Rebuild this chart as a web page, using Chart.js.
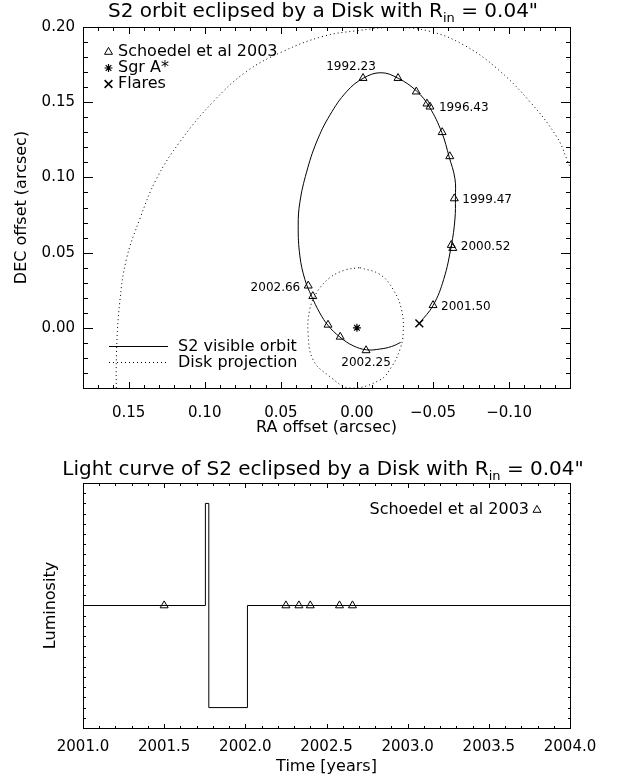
<!DOCTYPE html>
<html>
<head>
<meta charset="utf-8">
<script src="https://cdn.jsdelivr.net/npm/chart.js@4.4.1/dist/chart.umd.min.js"></script>
<style>
  html, body { margin: 0; padding: 0; background: #fff; }
  #page { position: relative; width: 618px; height: 782px; }
  .panel { position: absolute; left: 0; width: 618px; }
  #orbitBox { top: 0; height: 440px; }
  #lightBox { top: 440px; height: 342px; }
</style>
</head>
<body>
<div id="page">
  <div class="panel" id="orbitBox"><canvas id="orbit"></canvas></div>
  <div class="panel" id="lightBox"><canvas id="light"></canvas></div>
</div>
<script>
// ---- data (arcsec / years) ----

// Schoedel et al 2003 positions of S2
const obsRA  = [-0.004, -0.027, -0.039, -0.046, -0.048, -0.056, -0.061, -0.064, -0.062, -0.063, -0.050, -0.006, 0.011, 0.019, 0.029, 0.032];
const obsDEC = [ 0.166,  0.166,  0.157,  0.149,  0.147,  0.130,  0.114,  0.086,  0.055,  0.053,  0.015, -0.015, -0.006, 0.002, 0.021, 0.028];
const obsLabels   = ['1992.23', '1996.43', '1999.47', '2000.52', '2001.50', '2002.25', '2002.66'];
const obsLabelIdx = [0, 4, 7, 9, 10, 11, 15];

// visible part of the S2 orbit (from the flare round to the eclipse)
const orbitRA  = [-0.041, -0.050, -0.057, -0.062, -0.0644, -0.0647, -0.0644, -0.0606, -0.0558, -0.0475, -0.0392, -0.0271, -0.0157, -0.0041, 0.0068, 0.0178, 0.0265, 0.0331, 0.0375, 0.0386, 0.0375, 0.0342, 0.0298, 0.0244, 0.0189, 0.0112, 0.0025, -0.0063, -0.0151, -0.0228, -0.0287];
const orbitDEC = [ 0.003,  0.0148, 0.0322, 0.0545, 0.0723, 0.0864, 0.0991, 0.1136, 0.1298, 0.1470, 0.1574, 0.1659, 0.1696, 0.1659, 0.1570, 0.1414, 0.1236, 0.1035, 0.0835, 0.0678, 0.0478, 0.0322, 0.0210, 0.0099, 0.0015, -0.0061, -0.0119, -0.0146, -0.0141, -0.0124, -0.0097];

// disk projection, inner edge
const diskInRA  = [-0.0019, -0.0151, -0.0238, -0.0293, -0.0304, -0.0282, -0.0228, -0.0151, 0.0046, 0.0178, 0.0288, 0.0321, 0.0310, 0.0265, 0.0178, 0.0079, -0.0019];
const diskInDEC = [ 0.040,   0.0355,  0.0255,  0.0121, -0.0034, -0.0146, -0.0258, -0.0347, -0.040, -0.0324, -0.0213, -0.0034, 0.0121, 0.0233, 0.0333, 0.0384, 0.040];

// disk projection, outer edge
const diskOutRA  = [0.1581, 0.158, 0.1559, 0.1515, 0.1427, 0.1317, 0.1164, 0.0945, 0.0726, 0.0485, 0.0222, 0.0002, -0.025, -0.048, -0.0699, -0.0918, -0.1137, -0.1313, -0.1378, -0.144];
const diskOutDEC = [-0.048, -0.0168, 0.0166, 0.0456, 0.0723, 0.0991, 0.1236, 0.1503, 0.1704, 0.1838, 0.1938, 0.1975, 0.1997, 0.1971, 0.1882, 0.1726, 0.1503, 0.127, 0.1124, 0.0957];

const sgrRA = [0.0], sgrDEC = [0.0];
const flareRA = [-0.041], flareDEC = [0.003];

// light curve (step points) and observation epochs
const lcTime = [2001.0, 2001.754, 2001.775, 2002.013, 2004.0];
const lcLum  = [0.6, 1.1, 0.1, 0.6, 0.6];
const obsTime = [2001.50, 2002.25, 2002.33, 2002.40, 2002.58, 2002.66];
const obsLum  = [0.6, 0.6, 0.6, 0.6, 0.6, 0.6];

const orbitTitle = ['S2 orbit eclipsed by a Disk with R', 'in', ' = 0.04"'];
const lightTitle = ['Light curve of S2 eclipsed by a Disk with R', 'in', ' = 0.04"'];

// ---- helpers ----
const FONT = '"DejaVu Sans", sans-serif';
Chart.defaults.font.family = FONT;
Chart.defaults.color = '#000';

const pts = (xs, ys) => xs.map((v, i) => ({ x: v, y: ys[i] }));
const isMajor = (v, step) => Math.abs(v / step - Math.round(v / step)) < 1e-6;
const fmt = (v, d) => (Math.abs(v) < 1e-9 ? 0 : v).toFixed(d).replace('-', '\u2212');

function drawSubTitle(ctx, parts, cx, cy, size) {
  const big = size + 'px ' + FONT, small = Math.round(size * 0.65) + 'px ' + FONT;
  ctx.font = big;
  const w0 = ctx.measureText(parts[0]).width, w2 = ctx.measureText(parts[2]).width;
  ctx.font = small;
  const w1 = ctx.measureText(parts[1]).width;
  let x = cx - (w0 + w1 + w2) / 2;
  ctx.textAlign = 'left';
  ctx.textBaseline = 'middle';
  ctx.font = big;   ctx.fillText(parts[0], x, cy); x += w0;
  ctx.font = small; ctx.fillText(parts[1], x, cy + size * 0.32); x += w1;
  ctx.font = big;   ctx.fillText(parts[2], x, cy);
}

// tick values of a scale, stepping from its min to its max
function tickValues(scale, step) {
  const out = [];
  const n0 = Math.ceil(scale.min / step - 1e-6), n1 = Math.floor(scale.max / step + 1e-6);
  for (let n = n0; n <= n1; n++) out.push(n * step);
  return out;
}

// box round the plot with inward ticks on all four sides (IDL look)
function makeFrame(ax, ay) {
  return {
    id: 'idlFrame',
    afterDraw(chart) {
      const ctx = chart.ctx, area = chart.chartArea;
      const sx = chart.scales.x, sy = chart.scales.y;
      const L = Math.round(area.left), R = Math.round(area.right);
      const T = Math.round(area.top), B = Math.round(area.bottom);
      ctx.save();
      ctx.fillStyle = '#000';
      ctx.fillRect(L, T, R - L + 1, 1);
      ctx.fillRect(L, B, R - L + 1, 1);
      ctx.fillRect(L, T, 1, B - T + 1);
      ctx.fillRect(R, T, 1, B - T + 1);
      tickValues(sx, ax.minor).forEach(v => {
        const p = Math.round(sx.getPixelForValue(v));
        const len = isMajor(v, ax.major) ? ax.len[0] : ax.len[1];
        ctx.fillRect(p, B - len + 1, 1, len);
        ctx.fillRect(p, T, 1, len);
      });
      tickValues(sy, ay.minor).forEach(v => {
        const p = Math.round(sy.getPixelForValue(v));
        const len = isMajor(v, ay.major) ? ay.len[0] : ay.len[1];
        ctx.fillRect(L, p, len, 1);
        ctx.fillRect(R - len + 1, p, len, 1);
      });
      ctx.restore();
    }
  };
}

const symbol = (ctx, style, r, bw, px, py) => {
  ctx.lineWidth = bw;
  Chart.helpers.drawPoint(ctx, { pointStyle: style, radius: r, borderWidth: bw, rotation: 0 }, px, py);
};

// ---- orbit panel ----
const yearPlace = [[-12, -11, 'center'], [9, 1, 'left'], [8, 1, 'left'], [8, -1, 'left'], [8, 2, 'left'], [0, 12, 'center'], [-8, 2, 'right']];

const orbitDecor = {
  id: 'orbitDecor',
  afterDraw(chart) {
    const { ctx, chartArea: a, scales: { x, y } } = chart;
    ctx.save();
    ctx.fillStyle = '#000';
    ctx.strokeStyle = '#000';
    drawSubTitle(ctx, orbitTitle, 323, 12, 20);

    ctx.font = '12px ' + FONT;
    ctx.textBaseline = 'middle';
    obsLabels.forEach((txt, i) => {
      const k = obsLabelIdx[i];
      const [dx, dy, al] = yearPlace[i];
      ctx.textAlign = al;
      ctx.fillText(txt, x.getPixelForValue(obsRA[k]) + dx, y.getPixelForValue(obsDEC[k]) + dy);
    });

    // symbol legend, upper left
    const items = [['triangle', 4.6, 1, 'Schoedel et al 2003'], ['star', 4, 1.2, 'Sgr A*'], ['crossRot', 5.5, 1.5, 'Flares']];
    ctx.font = '16px ' + FONT;
    ctx.textAlign = 'left';
    items.forEach((it, i) => {
      const yy = a.top + 25 + i * 16;
      ctx.fillStyle = 'rgba(0,0,0,0)';
      symbol(ctx, it[0], it[1], it[2], a.left + 25.5, yy);
      ctx.fillStyle = '#000';
      ctx.fillText(it[3], a.left + 35, yy);
    });

    // line legend, lower left
    const lines = [[[], 'S2 visible orbit'], [[1, 3], 'Disk projection']];
    lines.forEach((ln, i) => {
      const yy = Math.round(a.bottom - 42 + i * 15.5) + 0.5;
      ctx.lineWidth = 1;
      ctx.setLineDash(ln[0]);
      ctx.beginPath();
      ctx.moveTo(a.left + 26, yy);
      ctx.lineTo(a.left + 85, yy);
      ctx.stroke();
      ctx.setLineDash([]);
      ctx.fillText(ln[1], a.left + 95, yy);
    });
    ctx.restore();
  }
};

const lineSet = (data, dash) => ({
  data, showLine: true, borderColor: '#000', borderWidth: 1, borderDash: dash,
  pointRadius: 0, tension: 0.4, fill: false
});

new Chart(document.getElementById('orbit'), {
  type: 'scatter',
  data: {
    datasets: [
      lineSet(pts(orbitRA, orbitDEC), []),
      lineSet(pts(diskInRA, diskInDEC), [1, 3]),
      lineSet(pts(diskOutRA, diskOutDEC), [1, 3]),
      { data: pts(obsRA, obsDEC), pointStyle: 'triangle', pointRadius: 4.6, pointBorderWidth: 1,
        pointBorderColor: '#000', pointBackgroundColor: 'rgba(0,0,0,0)' },
      { data: pts(sgrRA, sgrDEC), pointStyle: 'star', pointRadius: 4, pointBorderWidth: 1.2,
        pointBorderColor: '#000', pointBackgroundColor: 'rgba(0,0,0,0)' },
      { data: pts(flareRA, flareDEC), pointStyle: 'crossRot', pointRadius: 5.5, pointBorderWidth: 1.5,
        pointBorderColor: '#000', pointBackgroundColor: 'rgba(0,0,0,0)' }
    ]
  },
  options: {
    responsive: true, maintainAspectRatio: false, animation: false, devicePixelRatio: 1, events: [],
    layout: { padding: { top: 27, right: 48, left: 0, bottom: 0 } },
    elements: { line: { capBezierPoints: false } },
    plugins: { legend: { display: false }, tooltip: { enabled: false } },
    scales: {
      x: {
        type: 'linear', position: 'bottom', reverse: true, min: -0.14, max: 0.18,
        grid: { display: false, drawTicks: false }, border: { display: false },
        ticks: { stepSize: 0.05, includeBounds: false, autoSkip: false, maxRotation: 0, padding: 16,
                 color: '#000', font: { size: 15 }, callback: v => fmt(v, 2) },
        title: { display: true, text: 'RA offset (arcsec)', color: '#000', font: { size: 16 },
                 padding: { top: 0, bottom: 3 } },
        afterFit: s => { s.height = 52; }
      },
      y: {
        type: 'linear', position: 'left', min: -0.04, max: 0.20,
        grid: { display: false, drawTicks: false }, border: { display: false },
        ticks: { stepSize: 0.05, includeBounds: false, autoSkip: false, padding: 8, color: '#000',
                 font: { size: 15 }, callback: v => fmt(v, 2) },
        title: { display: true, text: 'DEC offset (arcsec)', color: '#000', font: { size: 16 },
                 padding: { top: 12, bottom: 0 } },
        afterFit: s => { s.width = 83; }
      }
    }
  },
  plugins: [makeFrame({ minor: 0.01, major: 0.05, len: [7, 4] }, { minor: 0.01, major: 0.05, len: [10, 5] }), orbitDecor]
});

// ---- light curve panel ----
const lightDecor = {
  id: 'lightDecor',
  afterDraw(chart) {
    const { ctx, chartArea: a } = chart;
    ctx.save();
    ctx.fillStyle = '#000';
    ctx.strokeStyle = '#000';
    drawSubTitle(ctx, lightTitle, 323, 30, 20);
    ctx.font = '16px ' + FONT;
    ctx.textAlign = 'right';
    ctx.textBaseline = 'middle';
    ctx.fillText('Schoedel et al 2003', a.right - 41, a.top + 27);
    ctx.fillStyle = 'rgba(0,0,0,0)';
    symbol(ctx, 'triangle', 4.6, 1, a.right - 33, a.top + 27);
    ctx.restore();
  }
};

new Chart(document.getElementById('light'), {
  type: 'scatter',
  data: {
    datasets: [
      { data: pts(lcTime, lcLum), showLine: true, stepped: true, borderColor: '#000', borderWidth: 1,
        pointRadius: 0, fill: false },
      { data: pts(obsTime, obsLum), pointStyle: 'triangle', pointRadius: 4.6, pointBorderWidth: 1,
        pointBorderColor: '#000', pointBackgroundColor: 'rgba(0,0,0,0)' }
    ]
  },
  options: {
    responsive: true, maintainAspectRatio: false, animation: false, devicePixelRatio: 1, events: [],
    layout: { padding: { top: 43, right: 48, left: 0, bottom: 0 } },
    plugins: { legend: { display: false }, tooltip: { enabled: false } },
    scales: {
      x: {
        type: 'linear', position: 'bottom', min: 2001, max: 2004,
        grid: { display: false, drawTicks: false }, border: { display: false },
        ticks: { stepSize: 0.5, autoSkip: false, maxRotation: 0, padding: 10, color: '#000',
                 font: { size: 15 }, callback: v => fmt(v, 1) },
        title: { display: true, text: 'Time [years]', color: '#000', font: { size: 16 },
                 padding: { top: 0, bottom: 6 } },
        afterFit: s => { s.height = 54; }
      },
      y: {
        type: 'linear', position: 'left', min: 0, max: 1.2,
        grid: { display: false, drawTicks: false }, border: { display: false },
        ticks: { display: false },
        title: { display: true, text: 'Luminosity', color: '#000', font: { size: 16 },
                 padding: { top: 41, bottom: 0 } },
        afterFit: s => { s.width = 83; }
      }
    }
  },
  plugins: [makeFrame({ minor: 0.1, major: 0.5, len: [5, 3] }, { minor: 0.05, major: 100, len: [3, 3] }), lightDecor]
});
</script>
</body>
</html>
